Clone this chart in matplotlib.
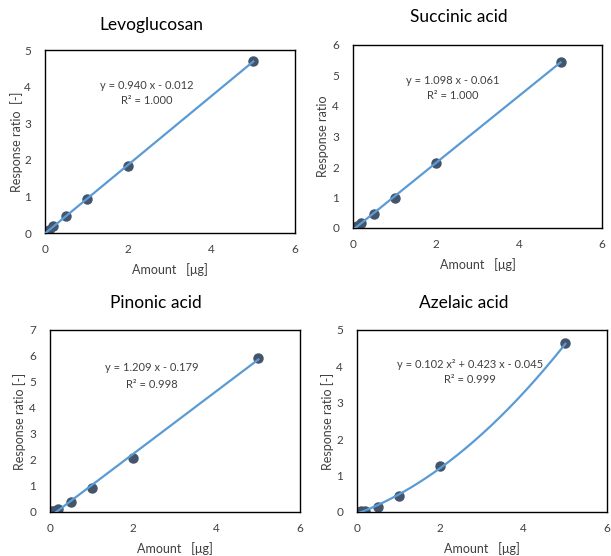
import numpy as np
import matplotlib
matplotlib.use("Agg")
import matplotlib.pyplot as plt

plt.rcParams['font.family'] = ['Lato', 'DejaVu Sans']

amount = [0.05, 0.1, 0.2, 0.5, 1, 2, 5]
amount_azelaic = [0.0, 0.05, 0.1, 0.2, 0.5, 1, 2, 5]

levo_y = [0.04, 0.09, 0.18, 0.46, 0.93, 1.82, 4.70]
succ_y = [0.0, 0.08, 0.15, 0.46, 0.99, 2.13, 5.43]
pino_y = [0.03, 0.05, 0.12, 0.40, 0.92, 2.08, 5.93]
azel_y = [0.0, 0.01, 0.02, 0.03, 0.13, 0.43, 1.26, 4.63]

succ_x = [0.02, 0.1, 0.2, 0.5, 1, 2, 5]

levo_fit = [0.940, -0.012]
succ_fit = [1.098, -0.061]
pino_fit = [1.209, -0.179]
azel_fit = [0.102, 0.423, -0.045]

titles = ["Levoglucosan", "Succinic acid", "Pinonic acid", "Azelaic acid"]
eqs = ["y = 0.940 x - 0.012", "y = 1.098 x - 0.061", "y = 1.209 x - 0.179",
       "y = 0.102 x² + 0.423 x - 0.045"]
r2s = ["R² = 1.000", "R² = 1.000", "R² = 0.998", "R² = 0.999"]
ylabels = ["Response ratio  [-]", "Response ratio", "Response ratio [-]", "Response ratio [-]"]
ymaxes = [5, 6, 7, 5]

W, H = 611, 556
fig = plt.figure(figsize=(W / 100, H / 100), dpi=100)

# pixel boxes: left, top, right, bottom
boxes = [(45, 50, 295, 233), (353, 45, 602, 228), (50, 330, 300, 512), (357, 330, 607, 512)]
title_xy = [(151, 25), (459, 17), (156, 303), (464, 303)]
ylabel_x = [17, 323, 20, 328]
text_pos = [(2.45, 4.02, 3.63), (2.41, 4.85, 4.33), (2.45, 5.54, 4.92), (2.71, 4.04, 3.65)]

datasets = [(amount, levo_y, levo_fit), (succ_x, succ_y, succ_fit),
            (amount, pino_y, pino_fit), (amount_azelaic, azel_y, azel_fit)]

marker_c = "#44546A"
line_c = "#5B9BD5"
txt_c = "#404040"

for i, (l, t, r, b) in enumerate(boxes):
    ax = fig.add_axes([l / W, 1 - b / H, (r - l) / W, (b - t) / H])
    x, y, fit = datasets[i]
    xs = np.linspace(0, max(x), 300)
    ys = np.polyval(fit, xs)
    ax.plot(x, y, 'o', color=marker_c, markersize=6.5, zorder=2)
    ax.plot(xs, ys, color=line_c, lw=1.6, zorder=3)
    ax.set_xlim(0, 6)
    ax.set_ylim(0, ymaxes[i])
    ax.set_xticks([0, 2, 4, 6])
    ax.set_yticks(range(0, ymaxes[i] + 1))
    ax.tick_params(length=0, labelsize=8.5, pad=8, colors=txt_c)
    ax.tick_params(axis='y', pad=10)
    for s in ax.spines.values():
        s.set_color("black")
        s.set_linewidth(1.0)
    ax.set_xlabel("Amount   [μg]", fontsize=9, color=txt_c, labelpad=6)
    ax.set_ylabel(ylabels[i], fontsize=9, color=txt_c)
    ax.yaxis.label.set_verticalalignment('center')
    ax.yaxis.set_label_coords((ylabel_x[i] - l) / (r - l), 0.5)
    tx, ty1, ty2 = text_pos[i]
    ax.text(tx, ty1, eqs[i], ha='center', va='center', fontsize=8, color=txt_c)
    ax.text(tx, ty2, r2s[i], ha='center', va='center', fontsize=8, color=txt_c)
    fig.text(title_xy[i][0] / W, 1 - title_xy[i][1] / H, titles[i], ha='center', va='center',
             fontsize=12.5, color="black")

fig.savefig("out.png", dpi=100)
